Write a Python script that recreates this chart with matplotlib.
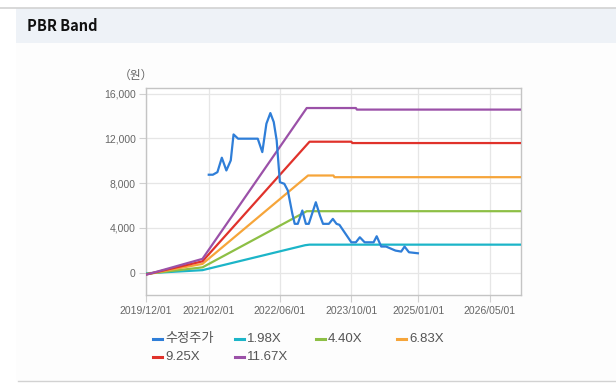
import matplotlib
matplotlib.use("Agg")
import matplotlib.pyplot as plt
import matplotlib.dates as mdates
from matplotlib.lines import Line2D
from matplotlib.patches import Rectangle
import numpy as np
import pandas as pd

# ---------------- data ----------------
price_dates = ["2021-02-01", "2021-03-01", "2021-04-01", "2021-05-01", "2021-06-01",
               "2021-07-01", "2021-07-20", "2021-08-20", "2022-01-01", "2022-02-01",
               "2022-03-01", "2022-03-28", "2022-04-20", "2022-05-10", "2022-06-01",
               "2022-07-01", "2022-07-25", "2022-08-25", "2022-09-10", "2022-10-01",
               "2022-11-01", "2022-11-25", "2022-12-15", "2023-02-01", "2023-03-01",
               "2023-03-22", "2023-05-01", "2023-05-28", "2023-06-22", "2023-07-12",
               "2023-10-01", "2023-11-01", "2023-11-28", "2023-12-31", "2024-03-01",
               "2024-03-22", "2024-04-22", "2024-05-25", "2024-07-01", "2024-07-28",
               "2024-09-05", "2024-09-28", "2024-10-28", "2024-12-28"]
price_values = [8750, 8750, 8980, 10270, 9130,
                10030, 12350, 11970, 11970, 10770,
                13310, 14260, 13460, 11820, 8080,
                7940, 7340, 5250, 4360, 4360,
                5550, 4360, 4360, 6290, 5100,
                4360, 4360, 4800, 4360, 4270,
                2710, 2710, 3160, 2710, 2710,
                3250, 2330, 2330, 2120, 1970,
                1880, 2330, 1820, 1730]

band_198_dates = ["2019-12-01", "2020-12-20", "2022-11-20", "2022-12-20", "2026-12-01"]
band_198_values = [-60, 220, 2450, 2500, 2500]

band_440_dates = ["2019-12-01", "2020-12-20", "2022-12-01", "2026-12-01"]
band_440_values = [-120, 470, 5490, 5490]

band_683_dates = ["2019-12-01", "2020-12-20", "2022-12-10", "2023-06-01", "2023-06-08", "2026-12-01"]
band_683_values = [-150, 780, 8680, 8680, 8530, 8530]

band_925_dates = ["2019-12-01", "2020-12-20", "2022-12-20", "2023-10-01", "2023-10-08", "2026-12-01"]
band_925_values = [-170, 1010, 11700, 11700, 11580, 11580]

band_1167_dates = ["2019-12-01", "2020-12-20", "2022-12-01", "2023-11-01", "2023-11-08", "2026-12-01"]
band_1167_values = [-190, 1230, 14710, 14710, 14570, 14570]

series_labels = ["수정주가", "1.98X", "4.40X", "6.83X", "9.25X", "11.67X"]
series_colors = ["#2f7ed8", "#1cb5c8", "#8dbf45", "#f6a53a", "#e0322b", "#9b51a8"]

x_ticks = ["2019-12-01", "2021-02-01", "2022-06-01", "2023-10-01", "2025-01-01", "2026-05-01"]
x_tick_labels = ["2019/12/01", "2021/02/01", "2022/06/01", "2023/10/01", "2025/01/01", "2026/05/01"]
y_ticks = [0, 4000, 8000, 12000, 16000]
y_tick_labels = ["0", "4,000", "8,000", "12,000", "16,000"]

# ---------------- figure ----------------
plt.rcParams['font.family'] = ['Liberation Sans', 'Noto Sans CJK KR', 'DejaVu Sans']

W, H = 616, 386
fig = plt.figure(figsize=(W / 100, H / 100), dpi=100)
fig.patch.set_facecolor("white")

def fx(px):
    return px / W

def fy(py):
    return 1 - py / H

# card background / banner
fig.add_artist(Rectangle((fx(16), fy(381)), fx(616) - fx(16), fy(43) - fy(381),
                         transform=fig.transFigure, facecolor="#fdfdfd", edgecolor="none", zorder=0))
fig.add_artist(Rectangle((fx(16), fy(43)), fx(616) - fx(16), fy(8) - fy(43),
                         transform=fig.transFigure, facecolor="#eef2f7", edgecolor="none", zorder=0))
fig.add_artist(Line2D([fx(0), fx(616)], [fy(7.5), fy(7.5)], transform=fig.transFigure,
                      color="#d2d2d2", lw=1.2, zorder=1))
fig.add_artist(Line2D([fx(18), fx(616)], [fy(381), fy(381)], transform=fig.transFigure,
                      color="#d2d2d2", lw=1.0, zorder=1))
fig.text(fx(27), fy(26), "PBR Band", fontsize=10.5, fontweight="bold", color="#111111",
         family=["Noto Sans CJK KR", "DejaVu Sans"], va="center", ha="left")

ax = fig.add_axes([fx(146), fy(295), fx(521) - fx(146), fy(88) - fy(295)])
ax.set_facecolor("white")

def to_dt(lst):
    return pd.to_datetime(lst)

bands = [
    (band_198_dates, band_198_values),
    (band_440_dates, band_440_values),
    (band_683_dates, band_683_values),
    (band_925_dates, band_925_values),
    (band_1167_dates, band_1167_values),
]
for i, (d, v) in enumerate(bands):
    ax.plot(to_dt(d), v, color=series_colors[i + 1], lw=1.6, solid_capstyle="round", zorder=3)
ax.plot(to_dt(price_dates), price_values, color=series_colors[0], lw=1.6,
        solid_joinstyle="round", zorder=4)

ax.set_xlim(pd.Timestamp("2019-12-01"), pd.Timestamp("2026-12-01"))
ax.set_ylim(-2000, 16500)
ax.set_xticks(to_dt(x_ticks))
ax.set_xticklabels(x_tick_labels)
ax.set_yticks(y_ticks)
ax.set_yticklabels(y_tick_labels)
ax.grid(True, color="#e6e6e6", lw=0.9, zorder=0)
ax.set_axisbelow(True)
for s in ax.spines.values():
    s.set_color("#c4c4c4")
    s.set_linewidth(1.0)
ax.tick_params(axis="both", length=5, color="#d0d0d0", labelcolor="#666666", labelsize=7.5, pad=2.5)
ax.tick_params(axis="x", pad=3)

fig.text(fx(136), fy(75), "（원）", fontsize=8.5, color="#666666", ha="center", va="center",
         family=["Noto Sans CJK KR", "DejaVu Sans"])

# legend (grid layout like the reference)
leg_pos = [(153, 339), (235, 339), (316, 339), (397, 339), (153, 357), (235, 357)]
for (lx, ly), lab, col in zip(leg_pos, series_labels, series_colors):
    fig.add_artist(Line2D([fx(lx), fx(lx + 9)], [fy(ly), fy(ly)], transform=fig.transFigure,
                          color=col, lw=2.2))
    fig.text(fx(lx + 12), fy(ly), lab, fontsize=9.5, color="#555555", ha="left", va="center",
             family=["Liberation Sans", "Noto Sans CJK KR"])

fig.savefig("out.png", dpi=100)
